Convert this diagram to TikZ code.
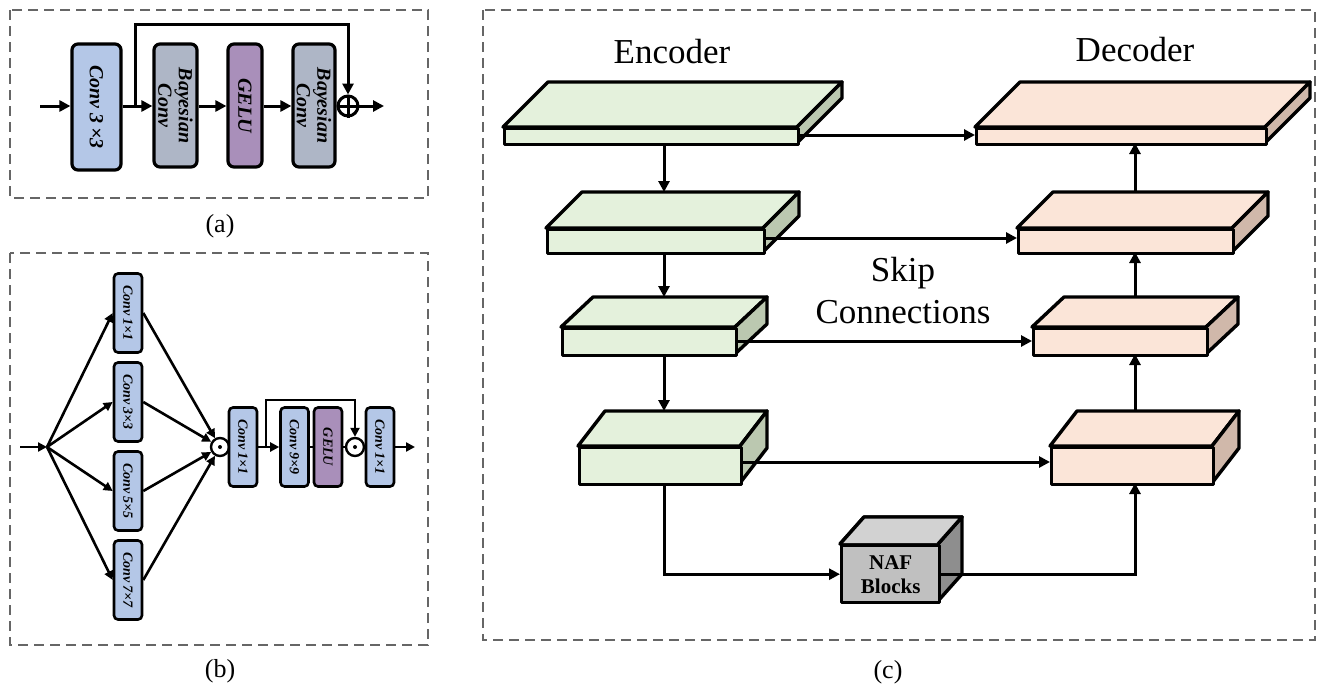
\documentclass[tikz,border=0pt]{standalone}
\usepackage{fontspec}
\setmainfont{Liberation Serif}
\usetikzlibrary{arrows.meta}
\definecolor{cblue}{HTML}{B4C7E7}
\definecolor{cgray}{HTML}{AEB6C6}
\definecolor{cpurp}{HTML}{A98FBA}
\definecolor{gfront}{HTML}{E4F1DC}
\definecolor{gside}{HTML}{BBC8B0}
\definecolor{pfront}{HTML}{FBE5D8}
\definecolor{pside}{HTML}{D0B8AA}
\definecolor{nfront}{HTML}{C0C0C0}
\definecolor{nside}{HTML}{8E8E8E}
\definecolor{ntop}{HTML}{D2D2D2}
\tikzset{
 x=1pt,y=-1pt,
 dbox/.style={draw=black!60,dashed,line width=2pt,dash pattern=on 10pt off 6pt},
 blk/.style={draw,line width=3.2pt,rounded corners=6pt,inner sep=0pt,font=\bfseries\itshape},
 ar/.style={line width=3pt,-{Triangle[length=11pt,width=11pt]}},
 ln/.style={line width=3pt},
 face/.style={draw,line width=3.4pt,line join=round},
 panelcap/.style={font=\fontsize{26}{26}\selectfont},
 big/.style={font=\fontsize{35}{42}\selectfont},
}
% \myslab{name}{x1}{y1}{x2}{y2}{dx}{dy}{front}{side}
\newcommand\myslab[9]{
 \fill[#8] (#2,#3) -- (#2+#6,#3-#7) -- (#4+#6,#3-#7) -- (#4,#3) -- cycle;
 \draw[face] (#2,#3) -- (#2+#6,#3-#7) -- (#4+#6,#3-#7) -- (#4,#3) -- cycle;
 \draw[face,fill=#9] (#4,#3) -- (#4+#6,#3-#7) -- (#4+#6,#5-#7) -- (#4,#5) -- cycle;
 \node[face,fill=#8,minimum width=#4-#2,minimum height=#5-#3,inner sep=0pt,anchor=north west] (#1) at (#2,#3) {};
}
\begin{document}
\begin{tikzpicture}
\useasboundingbox (0,0) rectangle (1325,696);
% ---------- (a)
\draw[dbox] (10,10) rectangle (428,198);
\node[panelcap] at (220,226) {(a)};
\tikzset{ablk/.style={blk,font=\fontsize{20}{18}\selectfont\bfseries\itshape}}
\node[ablk,fill=cblue,minimum width=49,minimum height=126] (a1) at (96.5,107) {\rotatebox{-90}{Conv 3\,\texttimes3}};
\node[ablk,fill=cgray,minimum width=43,minimum height=123] (a2) at (175.5,105.5) {\rotatebox{-90}{\shortstack{Bayesian\\Conv}}};
\node[ablk,fill=cpurp,minimum width=34,minimum height=123] (a3) at (245,105.5) {\rotatebox{-90}{GELU}};
\node[ablk,fill=cgray,minimum width=42,minimum height=123] (a4) at (314,105.5) {\rotatebox{-90}{\shortstack{Bayesian\\Conv}}};
\node[draw,circle,line width=3pt,minimum size=20,inner sep=0pt] (ap) at (348,106) {};
\draw[ln] (ap.north)--(ap.south) (ap.west)--(ap.east);
\coordinate (ain) at (40,106);
\coordinate (aout) at (384,106);
\coordinate (asp) at (135,106);
\draw[ar] (ain) -- (a1.west|-ain);
\draw[ar] (a1.east|-ain) -- (a2.west|-ain);
\draw[ar] (a2.east|-ain) -- (a3.west|-ain);
\draw[ar] (a3.east|-ain) -- (a4.west|-ain);
\draw[ln] (a4.east|-ain) -- (ap.west);
\draw[ar] (ap.east) -- (aout);
\draw[ar] (asp) |- (ap.north|-0,24) -- (ap.north);
% ---------- (b)
\draw[dbox] (10,253) rectangle (428,645);
\node[panelcap] at (220,671) {(b)};
\tikzset{bblk/.style={blk,rounded corners=4pt,line width=2.6pt,font=\fontsize{14}{14}\selectfont\bfseries\itshape,minimum width=28,minimum height=79}}
\tikzset{bar/.style={ar,line width=2.6pt,-{Triangle[length=9pt,width=9pt]}}}
\tikzset{odot/.style={draw,circle,line width=2.4pt,minimum size=18,inner sep=0pt}}
\node[bblk,fill=cblue] (b1) at (128,313) {\rotatebox{-90}{Conv 1\texttimes1}};
\node[bblk,fill=cblue] (b2) at (128,402) {\rotatebox{-90}{Conv 3\texttimes3}};
\node[bblk,fill=cblue] (b3) at (128,491) {\rotatebox{-90}{Conv 5\texttimes5}};
\node[bblk,fill=cblue] (b4) at (128,580) {\rotatebox{-90}{Conv 7\texttimes7}};
\coordinate (bin) at (20,447);
\coordinate (bf) at (47,447);
\node[odot] (bd1) at (220,447) {};
\fill (bd1.center) circle (2);
\node[bblk,fill=cblue] (b5) at (243,447) {\rotatebox{-90}{Conv 1\texttimes1}};
\node[bblk,fill=cblue] (b6) at (294.5,447) {\rotatebox{-90}{Conv 9\texttimes9}};
\node[bblk,fill=cpurp] (b7) at (328,447) {\rotatebox{-90}{GELU}};
\node[odot] (bd2) at (355,447) {};
\fill (bd2.center) circle (2);
\node[bblk,fill=cblue] (b8) at (380,447) {\rotatebox{-90}{Conv 1\texttimes1}};
\coordinate (bout) at (415,447);
\coordinate (bsp) at (266,447);
\draw[bar] (bin) -- (bf);
\foreach \i in {1,...,4}{
 \draw[bar] (bf) -- (b\i.west);
 \draw[bar] (b\i.east) -- (bd1);
}
\draw[ln,line width=2.6pt] (bd1) -- (b5);
\draw[bar] (b5) -- (b6);
\draw[ln,line width=2.6pt] (b6) -- (b7);
\draw[ln,line width=2.6pt] (b7) -- (bd2);
\draw[ln,line width=2.6pt] (bd2) -- (b8);
\draw[bar] (b8) -- (bout);
\draw[bar] (bsp) |- (bd2.north|-0,400) -- (bd2.north);
% ---------- (c)
\draw[dbox] (483,10) rectangle (1315,640);
\node[panelcap] at (888,672) {(c)};
\node[big] (enc) at (672,52) {Encoder};
\node[big] (dec) at (1135,50) {Decoder};
\node[big,align=center] (skip) at (903,291) {Skip\\Connections};
\myslab{e1}{503}{127}{797}{143}{45}{45}{gfront}{gside}
\myslab{e2}{546}{228}{763}{252}{36}{36}{gfront}{gside}
\myslab{e3}{561}{327}{735}{354}{32}{30}{gfront}{gside}
\myslab{e4}{578}{446}{740}{483}{27}{35}{gfront}{gside}
\myslab{d1}{975}{127}{1265}{143}{45}{45}{pfront}{pside}
\myslab{d2}{1017}{228}{1232}{252}{36}{36}{pfront}{pside}
\myslab{d3}{1032}{327}{1206}{354}{32}{30}{pfront}{pside}
\myslab{d4}{1050}{446}{1212}{483}{27}{35}{pfront}{pside}
\myslab{naf}{840}{544}{938}{601}{24}{27}{nfront}{nside}
\fill[ntop] (841,543) -- (864,518) -- (961,518) -- (938,543) -- cycle;
\draw[face] (840,544) -- (864,517) -- (962,517) -- (938,544);
\node[font=\fontsize{21}{24}\selectfont\bfseries,align=center] at (naf) {NAF\\Blocks};
% vertical arrows
\draw[ar] (664,143) -- (664,192);
\draw[ar] (664,252) -- (664,297);
\draw[ar] (664,354) -- (664,411);
\draw[ar] (664,483) |- (naf.west);
\draw[ar] (naf.east) -| (1135,483);
\draw[ar] (1135,411) -- (1135,354);
\draw[ar] (1135,297) -- (1135,252);
\draw[ar] (1135,192) -- (1135,143);
% skip arrows
\draw[ar] (e1.east|-0,135) -- (d1.west|-0,135);
\draw[ar] (e2.east|-0,238) -- (d2.west|-0,238);
\draw[ar] (e3.east|-0,341) -- (d3.west|-0,341);
\draw[ar] (e4.east|-0,462) -- (d4.west|-0,462);
\end{tikzpicture}
\end{document}
